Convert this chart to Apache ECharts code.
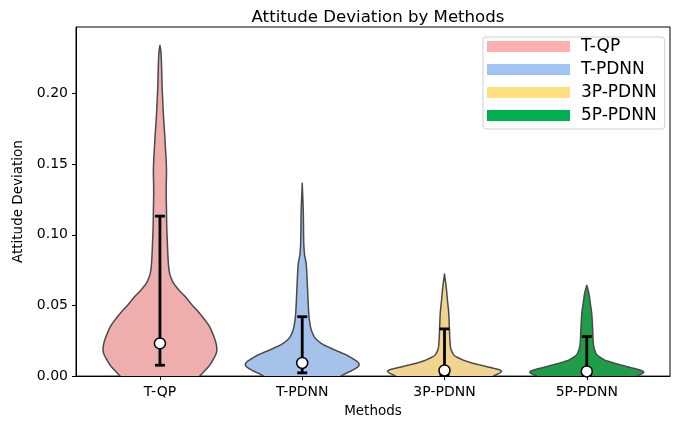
<!DOCTYPE html>
<html>
<head>
<meta charset="utf-8">
<script src="https://cdn.jsdelivr.net/npm/echarts@6/dist/echarts.min.js"></script>
<style>
html,body{margin:0;padding:0;background:#fff;}
#chart{width:686px;height:423px;}
</style>
</head>
<body>
<div id="chart"></div>
<script>
// ---- data ----
const categories = ['T-QP', 'T-PDNN', '3P-PDNN', '5P-PDNN'];

// violin profiles: value levels and relative density (1 = widest point)
const tqpLevels   = [0, 0.0093, 0.0187, 0.0327, 0.0443, 0.051, 0.056, 0.061, 0.068, 0.075, 0.085, 0.095, 0.105, 0.117, 0.131, 0.145, 0.152, 0.159, 0.170, 0.182, 0.194, 0.205, 0.217, 0.229, 0.234];
const tqpDensity  = [0.70, 0.90, 1.0, 0.90, 0.70, 0.55, 0.45, 0.33, 0.21, 0.16, 0.14, 0.13, 0.12, 0.115, 0.11, 0.115, 0.11, 0.10, 0.085, 0.065, 0.05, 0.038, 0.03, 0.018, 0];

const tpdnnLevels  = [0, 0.0082, 0.014, 0.0187, 0.0233, 0.028, 0.035, 0.0443, 0.056, 0.0677, 0.0793, 0.0863, 0.0957, 0.114, 0.1365];
const tpdnnDensity = [0.68, 1.0, 0.82, 0.56, 0.33, 0.21, 0.145, 0.115, 0.10, 0.087, 0.07, 0.04, 0.026, 0.02, 0];

const p3Levels  = [0, 0.0035, 0.007, 0.0093, 0.0117, 0.0152, 0.021, 0.0327, 0.0443, 0.0537, 0.063, 0.0723];
const p3Density = [0.86, 1.0, 0.71, 0.48, 0.31, 0.16, 0.104, 0.087, 0.075, 0.052, 0.03, 0];

const p5Levels  = [0, 0.0028, 0.007, 0.0093, 0.0117, 0.0163, 0.0233, 0.0327, 0.0443, 0.051, 0.058, 0.0642];
const p5Density = [0.88, 1.0, 0.68, 0.47, 0.30, 0.16, 0.115, 0.104, 0.087, 0.064, 0.04, 0];

// error bars and medians
const whiskerLow  = [0.0077, 0.0023, 0.001, 0.0008];
const whiskerHigh = [0.1132, 0.042, 0.0334, 0.028];
const medians     = [0.0231, 0.0093, 0.004, 0.0033];

const yTicks = [0, 0.05, 0.10, 0.15, 0.20];

// ---- styles ----
const violinColors = ['#eeaeae', '#a4c2ea', '#f0d490', '#1f9e4a'];
const legendColors = ['#ffafaf', '#a0c4f4', '#ffe080', '#00b050'];
const profiles = [
  [tqpLevels, tqpDensity],
  [tpdnnLevels, tpdnnDensity],
  [p3Levels, p3Density],
  [p5Levels, p5Density]
];
const HALF_WIDTH = 0.4;
const FONT = 'DejaVu Sans';

// monotone cubic (Fritsch-Carlson) evaluator for a smooth outline
function monotoneInterp(xs, ys) {
  const n = xs.length;
  const d = [], m = new Array(n);
  for (let i = 0; i < n - 1; i++) d.push((ys[i + 1] - ys[i]) / (xs[i + 1] - xs[i]));
  m[0] = d[0]; m[n - 1] = d[n - 2];
  for (let i = 1; i < n - 1; i++) {
    if (d[i - 1] * d[i] <= 0) m[i] = 0;
    else {
      const h0 = xs[i] - xs[i - 1], h1 = xs[i + 1] - xs[i];
      const w1 = 2 * h1 + h0, w2 = h1 + 2 * h0;
      m[i] = (w1 + w2) / (w1 / d[i - 1] + w2 / d[i]);
    }
  }
  return function (x) {
    if (x <= xs[0]) return ys[0];
    if (x >= xs[n - 1]) return ys[n - 1];
    let i = 0;
    while (i < n - 2 && x > xs[i + 1]) i++;
    const h = xs[i + 1] - xs[i];
    const t = (x - xs[i]) / h;
    const t2 = t * t, t3 = t2 * t;
    return (2 * t3 - 3 * t2 + 1) * ys[i] + (t3 - 2 * t2 + t) * h * m[i] +
           (-2 * t3 + 3 * t2) * ys[i + 1] + (t3 - t2) * h * m[i + 1];
  };
}

function violinSeries(idx) {
  const levels = profiles[idx][0];
  const dens = profiles[idx][1];
  const f = monotoneInterp(levels, dens);
  const top = levels[levels.length - 1];
  const STEPS = 300;
  return {
    name: categories[idx],
    type: 'custom',
    clip: true,
    z: 2,
    data: [[idx + 1]],
    renderItem: function (params, api) {
      const cx = api.value(0);
      const right = [], left = [];
      right.push(api.coord([cx + dens[0] * HALF_WIDTH, -0.006]));
      for (let s = 0; s <= STEPS; s++) {
        const v = top * s / STEPS;
        right.push(api.coord([cx + Math.max(0, f(v)) * HALF_WIDTH, v]));
      }
      for (let s = STEPS - 1; s >= 0; s--) {
        const v = top * s / STEPS;
        left.push(api.coord([cx - Math.max(0, f(v)) * HALF_WIDTH, v]));
      }
      left.push(api.coord([cx - dens[0] * HALF_WIDTH, -0.006]));
      return {
        type: 'polygon',
        shape: { points: right.concat(left) },
        style: { fill: violinColors[idx], stroke: '#4a4a4a', lineWidth: 1.5, lineJoin: 'round' }
      };
    }
  };
}

const whiskerData = categories.map((c, i) => [i + 1, whiskerLow[i], whiskerHigh[i]]);
const medianData = categories.map((c, i) => [i + 1, medians[i]]);

const chart = echarts.init(document.getElementById('chart'), null, { renderer: 'canvas' });

const option = {
  animation: false,
  backgroundColor: '#fff',
  title: {
    text: 'Attitude Deviation by Methods',
    left: 373, top: 4, textAlign: 'center',
    textStyle: { fontFamily: FONT, fontSize: 16.6, fontWeight: 'normal', color: '#000' }
  },
  legend: {
    orient: 'vertical',
    left: 483, top: 37,
    icon: 'rect',
    itemWidth: 83, itemHeight: 11,
    itemGap: 6,
    padding: [1, 8, 5, 4],
    backgroundColor: '#fff',
    borderColor: '#d0d0d0', borderWidth: 1, borderRadius: 3,
    textStyle: { fontFamily: FONT, fontSize: 17, color: '#000', lineHeight: 14, padding: [0, 0, 0, 6] },
    data: categories.map((c, i) => ({ name: c, itemStyle: { color: legendColors[i], borderWidth: 0 } }))
  },
  grid: {
    left: 76, right: 16, top: 27, bottom: 43,
    show: true, borderColor: '#000', borderWidth: 1, backgroundColor: 'transparent'
  },
  xAxis: {
    type: 'value',
    min: 0.41, max: 4.585,
    name: 'Methods',
    nameLocation: 'middle', nameGap: 27,
    nameTextStyle: { fontFamily: FONT, fontSize: 13.5, color: '#000' },
    axisLine: { show: true, lineStyle: { color: '#000', width: 1 } },
    axisTick: { show: true, inside: false, length: 4, lineStyle: { color: '#000' }, customValues: [1, 2, 3, 4] },
    axisLabel: {
      customValues: [1, 2, 3, 4],
      margin: 9,
      fontFamily: FONT, fontSize: 14, color: '#000',
      formatter: function (v) { return categories[Math.round(v) - 1] || ''; }
    },
    splitLine: { show: false }
  },
  yAxis: {
    type: 'value',
    min: 0, max: 0.247,
    name: 'Attitude Deviation',
    nameLocation: 'middle', nameGap: 48, nameRotate: 90,
    nameTextStyle: { fontFamily: FONT, fontSize: 13.5, color: '#000' },
    axisLine: { show: true, lineStyle: { color: '#000', width: 1 } },
    axisTick: { show: true, inside: false, length: 4, lineStyle: { color: '#000' }, customValues: yTicks },
    axisLabel: {
      customValues: yTicks,
      margin: 8,
      fontFamily: FONT, fontSize: 14, color: '#000',
      formatter: function (v) { return v.toFixed(2); }
    },
    splitLine: { show: false }
  },
  series: [
    violinSeries(0), violinSeries(1), violinSeries(2), violinSeries(3),
    {
      name: 'whiskers',
      type: 'custom',
      z: 5,
      data: whiskerData,
      renderItem: function (params, api) {
        const x = api.value(0);
        const lo = api.coord([x, api.value(1)]);
        const hi = api.coord([x, api.value(2)]);
        const capHalf = 5;
        const st = { stroke: '#000', lineWidth: 2.8 };
        return {
          type: 'group',
          children: [
            { type: 'line', shape: { x1: lo[0], y1: lo[1], x2: hi[0], y2: hi[1] }, style: st },
            { type: 'line', shape: { x1: lo[0] - capHalf, y1: lo[1], x2: lo[0] + capHalf, y2: lo[1] }, style: st },
            { type: 'line', shape: { x1: hi[0] - capHalf, y1: hi[1], x2: hi[0] + capHalf, y2: hi[1] }, style: st }
          ]
        };
      }
    },
    {
      name: 'median',
      type: 'scatter',
      z: 6,
      symbol: 'circle',
      symbolSize: 11,
      itemStyle: { color: '#fff', borderColor: '#000', borderWidth: 1.5, opacity: 1 },
      data: medianData
    }
  ]
};
chart.setOption(option);
</script>
</body>
</html>
